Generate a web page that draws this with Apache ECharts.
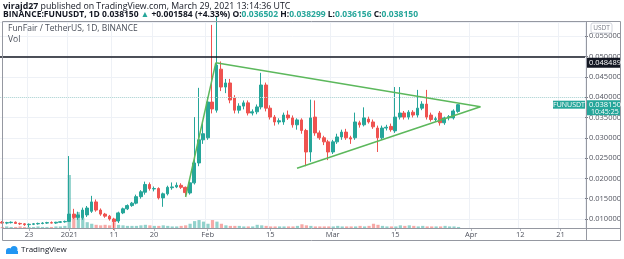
<!DOCTYPE html>
<html><head><meta charset="utf-8">
<script src="https://cdn.jsdelivr.net/npm/echarts@6/dist/echarts.min.js"></script>
<style>html,body{margin:0;padding:0;background:#fff}#c{width:624px;height:259px}</style>
</head><body><div id="c"></div>
<script>
// categories: daily, Dec 17 2020 .. Apr 26 2021
const startDate = Date.UTC(2020, 11, 17);
const nDays = 131;
const categories = [];
for (let i = 0; i < nDays; i++) categories.push(new Date(startDate + i * 86400000).toISOString().slice(0, 10));
// tick labels on the time axis
const timeTicks = {'2020-12-23':'23','2021-01-01':'2021','2021-01-11':'11','2021-01-20':'20','2021-02-01':'Feb','2021-02-15':'15','2021-03-01':'Mar','2021-03-15':'15','2021-04-01':'Apr','2021-04-12':'12','2021-04-21':'21'};
// OHLC: [open, close, low, high] from Dec 17
const ohlc = [
[0.0092,0.0090,0.0089,0.0095],[0.0090,0.0091,0.0087,0.0093],[0.0091,0.0092,0.0089,0.0094],[0.0092,0.0089,0.0088,0.0094],
[0.0089,0.0088,0.0085,0.0091],[0.0088,0.0086,0.0083,0.0090],[0.0086,0.0087,0.0080,0.0089],[0.0087,0.0088,0.0085,0.0090],
[0.0088,0.0089,0.0086,0.0091],[0.0089,0.0090,0.0087,0.0092],[0.0090,0.0091,0.0088,0.0093],[0.0091,0.0090,0.0089,0.0094],
[0.0090,0.0092,0.0088,0.0093],[0.0092,0.0093,0.0090,0.0095],[0.0093,0.0094,0.0091,0.0096],
[0.0094,0.0112,0.0093,0.0255],[0.0112,0.0104,0.0100,0.0125],[0.0104,0.0110,0.0098,0.0118],[0.0103,0.0122,0.0098,0.0128],
[0.0110,0.0127,0.0105,0.0132],[0.0119,0.0142,0.0115,0.0157],[0.0142,0.0122,0.0118,0.0148],[0.0122,0.0112,0.0108,0.0126],
[0.0112,0.0107,0.0103,0.0115],[0.0107,0.0100,0.0096,0.0110],[0.0100,0.0093,0.0073,0.0103],[0.0095,0.0115,0.0090,0.0118],
[0.0115,0.0125,0.0112,0.0128],[0.0125,0.0133,0.0122,0.0136],[0.0133,0.0139,0.0130,0.0142],[0.0139,0.0155,0.0136,0.0160],
[0.0155,0.0167,0.0150,0.0171],[0.0166,0.0185,0.0160,0.0192],[0.0185,0.0175,0.0170,0.0190],[0.0174,0.0175,0.0168,0.0180],
[0.0175,0.0152,0.0148,0.0178],[0.0152,0.0162,0.0130,0.0165],[0.0162,0.0178,0.0158,0.0182],[0.0177,0.0179,0.0172,0.0190],
[0.0179,0.0183,0.0176,0.0190],[0.0183,0.0178,0.0174,0.0188],[0.0178,0.0165,0.0155,0.0180],[0.0164,0.0189,0.0160,0.0192],
[0.0189,0.0238,0.0185,0.0351],[0.0238,0.0295,0.0230,0.0423],[0.0295,0.0310,0.0285,0.0340],[0.0300,0.0388,0.0295,0.0400],
[0.0388,0.0371,0.0360,0.0578],[0.0368,0.0479,0.0362,0.0600],[0.0469,0.0425,0.0415,0.0488],[0.0425,0.0435,0.0410,0.0445],
[0.0435,0.0393,0.0385,0.0445],[0.0398,0.0368,0.0360,0.0405],[0.0368,0.0378,0.0360,0.0385],[0.0378,0.0386,0.0370,0.0392],
[0.0386,0.0361,0.0355,0.0392],[0.0361,0.0364,0.0355,0.0370],[0.0364,0.0376,0.0358,0.0382],[0.0376,0.0430,0.0370,0.0460],
[0.0430,0.0373,0.0365,0.0436],[0.0373,0.0351,0.0345,0.0380],[0.0351,0.0339,0.0330,0.0356],[0.0339,0.0342,0.0333,0.0348],
[0.0339,0.0356,0.0332,0.0362],[0.0356,0.0349,0.0344,0.0367],[0.0349,0.0332,0.0325,0.0355],[0.0332,0.0344,0.0320,0.0348],
[0.0344,0.0318,0.0310,0.0348],[0.0318,0.0265,0.0230,0.0322],[0.0265,0.0349,0.0241,0.0394],[0.0351,0.0312,0.0305,0.0392],
[0.0312,0.0300,0.0295,0.0318],[0.0300,0.0290,0.0282,0.0305],[0.0290,0.0265,0.0245,0.0295],[0.0265,0.0290,0.0260,0.0295],
[0.0290,0.0302,0.0285,0.0310],[0.0302,0.0314,0.0295,0.0320],[0.0314,0.0300,0.0295,0.0322],[0.0300,0.0297,0.0285,0.0305],
[0.0300,0.0339,0.0295,0.0362],[0.0337,0.0332,0.0325,0.0342],[0.0332,0.0349,0.0328,0.0375],[0.0346,0.0339,0.0335,0.0352],
[0.0339,0.0327,0.0322,0.0345],[0.0324,0.0300,0.0265,0.0330],[0.0300,0.0324,0.0295,0.0330],[0.0324,0.0326,0.0318,0.0332],
[0.0328,0.0320,0.0315,0.0335],[0.0317,0.0351,0.0312,0.0425],[0.0351,0.0361,0.0345,0.0425],[0.0361,0.0351,0.0345,0.0366],
[0.0351,0.0363,0.0345,0.0368],[0.0363,0.0356,0.0350,0.0368],[0.0356,0.0373,0.0350,0.0418],[0.0373,0.0383,0.0368,0.0390],
[0.0383,0.0351,0.0345,0.0418],[0.0356,0.0345,0.0340,0.0362],[0.0345,0.0347,0.0340,0.0352],[0.0361,0.0337,0.0330,0.0366],
[0.0337,0.0349,0.0332,0.0352],[0.0349,0.0352,0.0343,0.0356],[0.0349,0.0366,0.0345,0.0370],[0.036502,0.038150,0.036156,0.038299]
];
// volume (relative units) from Dec 17
const volume = [2,3,2,2,3,2,2,2,3,2,2,2,3,3,4,100,23,30,19,11,8,6,5,6,5,10,6,5,4,4,4,5,6,5,4,4,5,4,3,3,4,5,8,13,15,12,8,15,12,8,5,4,4,4,3,3,3,6,5,4,3,3,3,3,3,3,4,7,5,4,3,3,3,3,3,4,3,3,3,3,4,3,4,8,6,4,3,3,3,5,4,5,4,3,4,3,3,3,3,4,3,3,2];
// trend lines [category index, price]
const riseLine = [[41, 0.01542], [47.75, 0.0485]];
const upperLine = [[47.75, 0.0485], [106.9, 0.03766]];
const lowerLine = [[65.9, 0.02249], [106.9, 0.03766]];
const resistance = 0.048489;
const lastPrice = 0.038150;
const priceTagText = ['0.038150', '10:45:25'];

const UP = '#26a69a', DOWN = '#ef5350';
const FONT = 'Open Sans';
const chart = echarts.init(document.getElementById('c'), null, {renderer: 'canvas'});
const volData = volume.map((v, i) => ({value: v, itemStyle: {color: ohlc[i][1] >= ohlc[i][0] ? 'rgba(38,166,154,0.5)' : 'rgba(239,83,80,0.5)'}}));
const lineSeries = (pts) => ({type: 'line', xAxisIndex: 2, yAxisIndex: 2, data: pts, symbol: 'none', silent: true,
  lineStyle: {color: '#5cb85c', width: 1.5}, z: 5});
const txt = (text, left, top, style) => ({text, left, top, padding: 0, textStyle: Object.assign({fontFamily: FONT, fontSize: 9, fontWeight: 'normal', color: '#131722'}, style)});
const baseGraphic = [
  {type: 'text', x: 3, y: 6, z: 120, style: {text: '{b|virajd27} published on TradingView.com, March 29, 2021 13:14:36 UTC',
    fontFamily: FONT, fontSize: 8.8, fill: '#131722', verticalAlign: 'middle',
    rich: {b: {fontFamily: FONT, fontSize: 8.8, fontWeight: 'bold', fill: '#131722'}}}},
  {type: 'text', x: 3, y: 15, z: 120, style: {text: 'BINANCE:FUNUSDT, 1D 0.038150 {g|▲} +0.001584 (+4.33%) O:{g|0.036502} H:{g|0.038299} L:{g|0.036156} C:{g|0.038150}',
    fontFamily: FONT, fontSize: 8.5, fontWeight: 'bold', fill: '#131722', verticalAlign: 'middle',
    rich: {g: {fontFamily: FONT, fontSize: 8.5, fontWeight: 'bold', fill: UP}}}},
  {type: 'rect', shape: {x: 2.5, y: 21.5, width: 618, height: 219}, style: {fill: 'none', stroke: '#9598a1', lineWidth: 1}, z: 100, silent: true},
  {type: 'line', shape: {x1: 3, y1: 228.5, x2: 620, y2: 228.5}, style: {stroke: '#9598a1', lineWidth: 1}, z: 100},
  {type: 'line', shape: {x1: 586.5, y1: 22, x2: 586.5, y2: 240}, style: {stroke: '#9598a1', lineWidth: 1}, z: 100},
  {type: 'rect', shape: {x: 591, y: 23, width: 21, height: 10, r: 2}, style: {fill: '#fff', stroke: '#d1d4dc', lineWidth: 1}, z: 100},
  {type: 'text', x: 601.5, y: 28, style: {text: 'USDT', fontSize: 6.5, fill: '#787b86', align: 'center', verticalAlign: 'middle', fontFamily: FONT}, z: 101},
  {type: 'circle', shape: {cx: 9, cy: 251, r: 3}, style: {fill: '#2196f3'}, z: 100},
  {type: 'circle', shape: {cx: 14, cy: 249.5, r: 3.5}, style: {fill: '#2196f3'}, z: 100},
  {type: 'rect', shape: {x: 6, y: 251, width: 12, height: 3}, style: {fill: '#2196f3'}, z: 100}
];
chart.setOption({
  animation: false,
  backgroundColor: '#fff',
  title: [
    txt('FunFair / TetherUS, 1D, BINANCE', 8, 24, {fontSize: 8.5, color: '#4a4f5a'}),
    txt('Vol', 8, 35, {fontSize: 8.5, color: '#4a4f5a'}),
    txt('TradingView', 21, 246, {fontSize: 8, color: '#131722'})
  ],
  grid: [
    {left: 0, width: 586, top: 22, height: 206},
    {left: 0, width: 586, top: 175, height: 53},
    {left: 0, width: 586, top: 22, height: 206}
  ],
  xAxis: [
    {type: 'category', gridIndex: 0, data: categories, boundaryGap: true,
     axisLine: {show: false}, axisTick: {show: true, length: 3, lineStyle: {color: '#b2b5be'}, interval: (i, v) => !!timeTicks[v], alignWithLabel: true},
     axisLabel: {interval: (i, v) => !!timeTicks[v], formatter: v => timeTicks[v] || '', fontSize: 7.5, color: '#50535e', fontFamily: FONT, margin: 3},
     splitLine: {show: true, interval: (i, v) => !!timeTicks[v], lineStyle: {color: '#eef1f6'}}},
    {type: 'category', gridIndex: 1, data: categories, boundaryGap: true, show: false},
    {type: 'value', gridIndex: 2, min: -0.5, max: nDays - 0.5, show: false}
  ],
  yAxis: [
    {type: 'value', gridIndex: 0, position: 'right', min: 0.00778, max: 0.05852, minInterval: 0.005, maxInterval: 0.005, splitNumber: 10,
     axisLine: {show: false}, axisTick: {show: true, length: 3, lineStyle: {color: '#787b86'}},
     axisLabel: {showMinLabel: false, showMaxLabel: false, formatter: v => v.toFixed(6), fontSize: 7.5, color: '#50535e', fontFamily: FONT, margin: 4},
     splitLine: {show: true, lineStyle: {color: '#eef1f6'}}},
    {type: 'value', gridIndex: 1, show: false, min: 0, max: 100},
    {type: 'value', gridIndex: 2, show: false, min: 0.00778, max: 0.05852}
  ],
  series: [
    {type: 'bar', xAxisIndex: 1, yAxisIndex: 1, data: volData, barWidth: 3.2, z: 1},
    {type: 'candlestick', xAxisIndex: 0, yAxisIndex: 0, data: ohlc, barWidth: 3.2, z: 3,
     itemStyle: {color: UP, color0: DOWN, borderColor: UP, borderColor0: DOWN, borderWidth: 1},
     markLine: {symbol: 'none', silent: true, animation: false, label: {show: false}, data: [
       {yAxis: resistance, lineStyle: {color: '#131722', width: 1.5, type: 'solid'}},
       {yAxis: lastPrice, lineStyle: {color: '#b5dcd8', width: 1, type: 'dotted'}}
     ]}},
    lineSeries(riseLine), lineSeries(upperLine), lineSeries(lowerLine)
  ],
  graphic: baseGraphic
});
// price tags on the axis, placed through the price scale
const yR = chart.convertToPixel({yAxisIndex: 0}, resistance);
const yP = chart.convertToPixel({yAxisIndex: 0}, lastPrice);
const tagText = {fontSize: 7.5, fill: '#fff', fontFamily: FONT, verticalAlign: 'middle', align: 'left'};
chart.setOption({graphic: baseGraphic.concat([
  {type: 'rect', shape: {x: 587, y: yR - 5, width: 33, height: 10}, style: {fill: '#131722'}, z: 110},
  {type: 'text', x: 589, y: yR, style: Object.assign({text: resistance.toFixed(6)}, tagText), z: 111},
  {type: 'rect', shape: {x: 587, y: yP - 4.5, width: 33, height: 15}, style: {fill: UP}, z: 110},
  {type: 'text', x: 589, y: yP, style: Object.assign({text: priceTagText[0]}, tagText), z: 111},
  {type: 'text', x: 591, y: yP + 7, style: Object.assign({text: priceTagText[1]}, tagText, {fontSize: 7}), z: 111},
  {type: 'rect', shape: {x: 553, y: yP - 4, width: 32, height: 8}, style: {fill: UP}, z: 110},
  {type: 'text', x: 569, y: yP, style: Object.assign({text: 'FUNUSDT'}, tagText, {align: 'center', fontSize: 7}), z: 111}
])}, {replaceMerge: ['graphic']});
</script></body></html>
